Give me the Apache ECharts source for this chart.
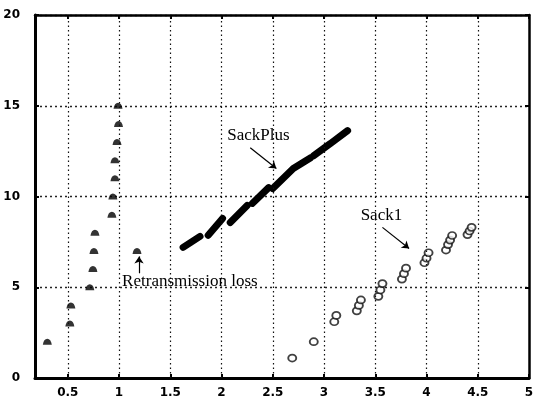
<!DOCTYPE html>
<html><head><meta charset="utf-8">
<script src="https://cdn.jsdelivr.net/npm/echarts@6/dist/echarts.min.js"></script>
<style>html,body{margin:0;padding:0;background:#fff}#c{width:545px;height:402px}</style>
</head><body><div id="c"></div>
<script>
var xTicks = [0.5, 1, 1.5, 2, 2.5, 3, 3.5, 4, 4.5, 5];
var yTicks = [0, 5, 10, 15, 20];
var slowStart = [[0.30,2],[0.52,3],[0.53,4],[0.715,5],[0.745,6],[0.755,7],[0.765,8],[0.93,9],[0.94,10],[0.96,11],[0.96,12],[0.98,13],[0.995,14],[0.99,15]];
var retrans = [[1.175,7]];
var sackPlusSegs = [
  [[1.625,7.20],[1.79,7.80]],
  [[1.87,7.86],[2.01,8.79]],
  [[2.085,8.57],[2.25,9.50]],
  [[2.30,9.62],[2.46,10.49]],
  [[2.50,10.44],[2.70,11.54]],
  [[2.70,11.54],[2.87,12.14]],
  [[2.90,12.25],[3.06,12.91]],
  [[3.06,12.91],[3.23,13.63]]
];
var sack1 = [[2.69,1.1],[2.90,2.0],[3.10,3.1],[3.12,3.45],[3.32,3.7],[3.34,4.0],[3.36,4.3],
  [3.53,4.5],[3.55,4.85],[3.57,5.2],[3.76,5.45],[3.78,5.75],[3.80,6.05],
  [3.98,6.35],[4.00,6.6],[4.02,6.9],[4.19,7.05],[4.21,7.35],[4.23,7.6],[4.25,7.85],
  [4.40,7.9],[4.42,8.1],[4.44,8.3]];
var labels = [
  {name:'SackPlus', coord:[2.36,13.35]},
  {name:'Sack1', coord:[3.56,8.96]}
];
var retransLabel = {name:'Retransmission loss', coord:[1.03,5.33]};
var arrows = [
  [[2.28,12.69],[2.535,11.54]],
  [[3.57,8.30],[3.83,7.14]],
  [[1.195,5.77],[1.195,6.70]]
];
var xMin = 0.18, xMax = 5;

var plusData = [];
sackPlusSegs.forEach(function(s){ plusData.push(s[0], s[1], '-'); });

var chart = echarts.init(document.getElementById('c'), null, {renderer:'canvas'});
var dotted = {color:'#111', type:[1.5,3], width:1.2};
var dottedH = {color:'#222', type:[2,3], width:1.4, opacity:1};
var axisFont = {color:'#000',fontFamily:'DejaVu Sans',fontWeight:'bold',fontSize:12};
var gridLinesX = xTicks.slice(0,9);
chart.setOption({
  animation:false,
  grid:{left:35,right:16,top:15,bottom:24},
  xAxis:[
    {type:'value',min:xMin,max:xMax,position:'bottom',
      axisLine:{show:true,onZero:false,lineStyle:{color:'#000',width:3}},
      axisTick:{show:true,inside:true,length:4,customValues:xTicks,lineStyle:{color:'#000',width:2}},
      axisLabel:Object.assign({customValues:xTicks,margin:9},axisFont),
      splitLine:{show:false}},
    {type:'value',min:xMin,max:xMax,position:'top',
      axisLine:{show:true,onZero:false,lineStyle:{color:'#000',width:2.5}},
      axisTick:{show:true,inside:true,length:4,customValues:xTicks,lineStyle:{color:'#000',width:2}},
      axisLabel:{show:false},splitLine:{show:false}}
  ],
  yAxis:[
    {type:'value',min:0,max:20,interval:5,position:'left',
      axisLine:{show:true,onZero:false,lineStyle:{color:'#000',width:3}},
      axisTick:{show:true,inside:true,length:4,lineStyle:{color:'#000',width:2}},
      axisLabel:Object.assign({margin:15},axisFont),
      splitLine:{show:true,lineStyle:dottedH}},
    {type:'value',min:0,max:20,interval:5,position:'right',
      axisLine:{show:true,onZero:false,lineStyle:{color:'#000',width:2.5}},
      axisTick:{show:true,inside:true,length:4,lineStyle:{color:'#000',width:2}},
      axisLabel:{show:false},splitLine:{show:false}}
  ],
  series:[
    {type:'scatter',data:[[xMin,0]],symbolSize:0,silent:true,
      markLine:{silent:true,symbol:'none',label:{show:false},lineStyle:dotted,
        data:gridLinesX.map(function(v){return {xAxis:v};})}},
    {type:'scatter',data:slowStart,symbol:'path://M0,8 Q1,0 5,0 Q9,0 10,8 Z',symbolSize:[9,6],
      itemStyle:{color:'#000'}},
    {type:'scatter',data:retrans,symbol:'path://M0,8 Q1,0 5,0 Q9,0 10,8 Z',symbolSize:[9,6],
      itemStyle:{color:'#000'}},
    {type:'line',data:plusData,showSymbol:false,connectNulls:false,
      lineStyle:{color:'#000',width:7,cap:'round'}},
    {type:'scatter',data:sack1,symbol:'circle',symbolSize:[8,7],
      itemStyle:{color:'#fff',borderColor:'#111',borderWidth:1.8}},
    {type:'scatter',data:[[xMin,0]],symbolSize:0,silent:true,
      markPoint:{symbol:'circle',symbolSize:0,
        label:{show:true,position:'inside',formatter:'{b}',color:'#000',fontFamily:'Liberation Serif',fontSize:17},
        data:labels.map(function(l){return {name:l.name,coord:l.coord};}).concat([
          {name:retransLabel.name,coord:retransLabel.coord,label:{position:'right',distance:0}}])},
      markLine:{silent:true,symbol:['none','arrow'],symbolSize:7,label:{show:false},
        lineStyle:{color:'#000',width:1.2,type:'solid'},
        data:arrows.map(function(a){return [{coord:a[0]},{coord:a[1]}];})}}
  ]
});
</script></body></html>
